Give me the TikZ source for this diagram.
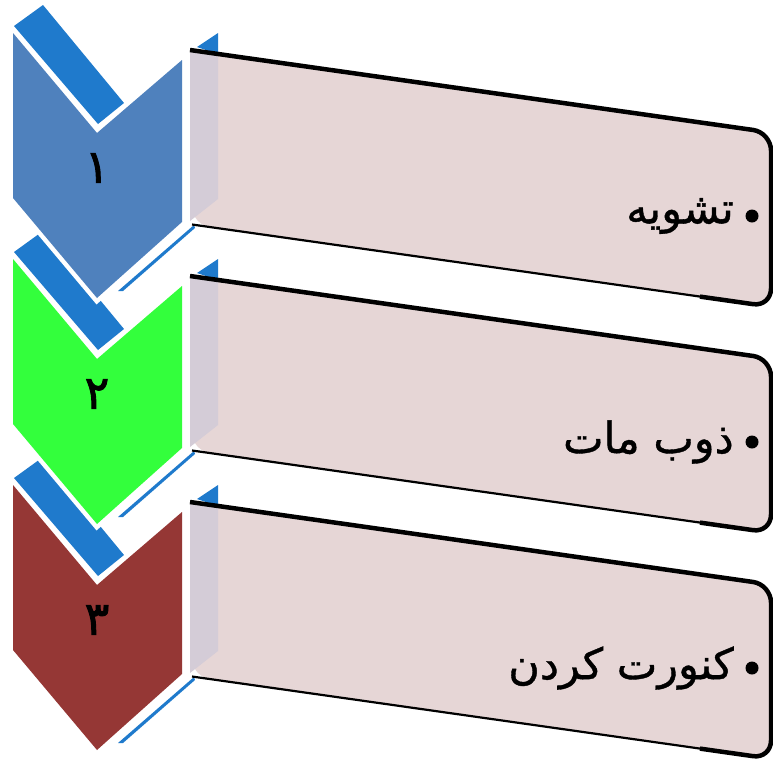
\documentclass[tikz,border=0pt]{standalone}
\usepackage{fontspec}
\newfontfamily\arabicfont[Script=Arabic,FakeBold=0.9]{DejaVu Sans}
\newfontfamily\digitfont[Script=Arabic,FakeBold=2]{DejaVu Sans}
\TeXXeTstate=1
\definecolor{stripeblue}{RGB}{31,122,204}
\definecolor{chevA}{RGB}{79,129,189}
\definecolor{chevB}{RGB}{51,255,60}
\definecolor{chevC}{RGB}{149,55,53}
\definecolor{boxface}{RGB}{230,214,214}
\definecolor{boxside}{RGB}{212,204,215}
\begin{document}
\begin{tikzpicture}[x=1pt,y=-1pt,
  stripe/.style={fill=stripeblue},
  chevron/.style={preaction={draw=white,line width=9pt,line join=miter}},
  outline/.style={draw=black,line width=4.5pt,rounded corners=18pt},
  baseline/.style={draw=black,line width=2.2pt},
  label/.style={anchor=east,inner sep=0pt,font=\arabicfont\fontsize{43}{50}\selectfont},
  digit/.style={inner sep=0pt,font=\digitfont\fontsize{46}{50}\selectfont},
  dot/.style={circle,fill=black,inner sep=0pt,minimum size=13pt}]
\useasboundingbox (0,0) rectangle (773,758);
\fill[white] (0,0) rectangle (773,758);

% ribbon strips above each chevron
\foreach \k in {0,1,2}{
  \begin{scope}[shift={(0,226*\k)}]
    \fill[stripe] (14,26) -- (43,5) -- (124,103) -- (98,124) -- cycle;
  \end{scope}
}

% chevrons with their numbers
\foreach \k/\col/\dig in {0/chevA/۱,1/chevB/۲,2/chevC/۳}{
  \begin{scope}[shift={(0,226*\k)}]
    \fill[\col,chevron] (13,33) -- (97,133) -- (182,60) -- (182,222) -- (97,298) -- (13,198) -- cycle;
    \node[digit] (d\k) at (97,168) {\dig};
    % thin shadow sliver under the chevron
    \fill[stripeblue] (118,291) -- (194,225) -- (195,228) -- (123,291) -- cycle;
  \end{scope}
}

% label boxes
\foreach \k/\txt in {0/تشویه,1/ذوب مات,2/کنورت کردن}{
  \begin{scope}[shift={(0,226*\k)}]
    \fill[stripeblue] (197,47) -- (218,33) -- (218,54) -- cycle;
    \fill[boxface,rounded corners=18pt] (190,50) -- (771,132.5) -- (771,306.7) -- (192,224.5) -- cycle;
    \fill[boxside] (190,51) -- (218,55) -- (218,199) -- (190,221) -- cycle;
    \draw[baseline] (192,224.5) -- (720,299.4);
    \draw[outline] (190,50) -- (771,132.5) -- (771,306.7) -- (700,296.6);
    \node[dot] (b\k) at (752,216) {};
    \node[label] (t\k) at (734,216) {\beginR\txt\endR};
  \end{scope}
}
\end{tikzpicture}
\end{document}
